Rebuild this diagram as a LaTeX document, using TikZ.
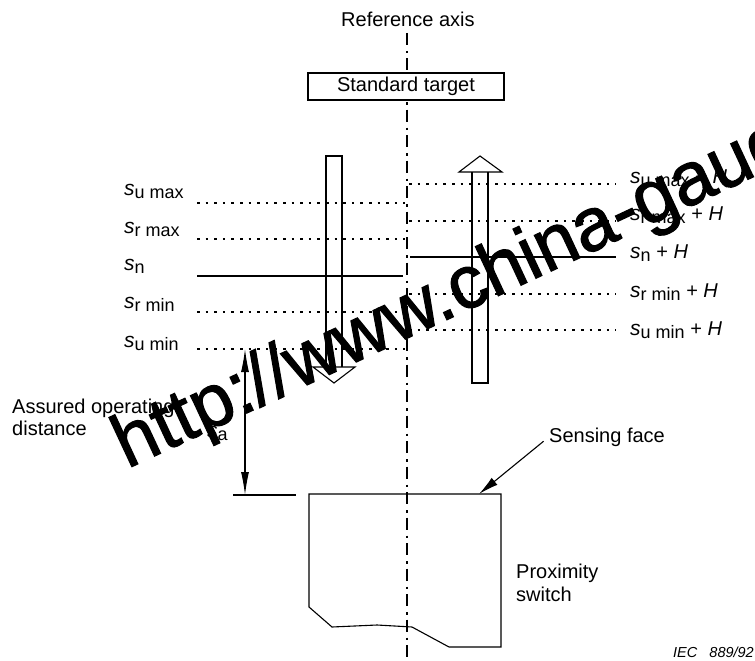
\documentclass[tikz,border=0pt]{standalone}
\usepackage{fontspec}
\setmainfont{Liberation Sans}
\newfontfamily\markfont[FakeBold=1.5]{Liberation Sans}
\usetikzlibrary{arrows.meta}

\newcommand{\sval}[1]{{\fontsize{21}{23}\selectfont\textit{s}}\raisebox{-3pt}{\fontsize{18}{20}\selectfont #1}}
\newcommand{\sadd}[1]{\sval{#1} + \textit{H}}

\tikzset{
  lbl/.style={anchor=base west, inner sep=0pt, font=\fontsize{20}{23}\selectfont},
  level/.style={line width=1.1pt, dash pattern=on 2.6pt off 6pt},
  solidlevel/.style={line width=1.1pt},
  axisline/.style={line width=1.1pt, dash pattern=on 12pt off 6pt on 2.5pt off 5pt},
  dimarrow/.style={line width=1.1pt, {Latex[length=23pt,width=8pt]}-{Latex[length=23pt,width=8pt]}},
  leader/.style={line width=1.1pt, -{Latex[length=20pt,width=9pt]}}
}

\begin{document}
\begin{tikzpicture}[x=1pt,y=-1pt]
  \useasboundingbox (0,0) rectangle (755,661);

  \coordinate (axisTop) at (407,33);
  \coordinate (axisBot) at (407,661);
  \draw[axisline] (axisTop) -- (axisBot);

  \node[lbl] (refaxis) at (341,27) {Reference axis};
  \node[draw, fill=white, line width=1.1pt, minimum width=196pt, minimum height=27pt, inner sep=0pt,
        font=\fontsize{20}{23}\selectfont] (target) at (406,86.5) {Standard target};

  \node[lbl] (sumax) at (124,195) {\sval{u max}};
  \node[lbl] (srmax) at (124,233) {\sval{r max}};
  \node[lbl] (sn) at (124,270) {\sval{n}};
  \node[lbl] (srmin) at (124,308) {\sval{r min}};
  \node[lbl] (sumin) at (124,347) {\sval{u min}};

  \coordinate (la) at (197,203);   \coordinate (lb) at (405,203);
  \coordinate (lc) at (197,239);   \coordinate (ld) at (405,239);
  \coordinate (le) at (197,276);   \coordinate (lf) at (403,276);
  \coordinate (lg) at (197,312);   \coordinate (lh) at (405,312);
  \coordinate (li) at (197,349);   \coordinate (lj) at (405,349);
  \draw[level] (la) -- (lb);
  \draw[level] (lc) -- (ld);
  \draw[solidlevel] (le) -- (lf);
  \draw[level] (lg) -- (lh);
  \draw[level] (li) -- (lj);

  \coordinate (ra) at (409,184);   \coordinate (rb) at (616,184);
  \coordinate (rc) at (409,221);   \coordinate (rd) at (616,221);
  \coordinate (re) at (410,257);   \coordinate (rf) at (616,257);
  \coordinate (rg) at (409,294);   \coordinate (rh) at (616,294);
  \coordinate (ri) at (409,330);   \coordinate (rj) at (616,330);
  \draw[level] (ra) -- (rb);
  \draw[level] (rc) -- (rd);
  \draw[solidlevel] (re) -- (rf);
  \draw[level] (rg) -- (rh);
  \draw[level] (ri) -- (rj);

  \node[lbl] (sumaxh) at (630,183) {\sadd{u max}};
  \node[lbl] (srmaxh) at (630,220) {\sadd{r max}};
  \node[lbl] (snh) at (630,258) {\sadd{n}};
  \node[lbl] (srminh) at (630,297) {\sadd{r min}};
  \node[lbl] (suminh) at (630,335) {\sadd{u min}};

  \draw[line width=1.1pt] (326,367) -- (326,156) -- (342,156) -- (342,367);
  \draw[line width=1.1pt] (313,367) -- (355,367) -- (334,383) -- cycle;

  \draw[line width=1.1pt] (472,172) -- (472,383) -- (488,383) -- (488,172);
  \draw[line width=1.1pt] (459,172) -- (502,172) -- (480,156) -- cycle;

  \node[lbl] (assured) at (12,413) {Assured operating};
  \node[lbl] (distance) at (12,435) {distance};
  \node[lbl] (sa) at (207,437) {\sval{a}};

  \coordinate (dimTop) at (245,349);
  \coordinate (dimBot) at (245,495);
  \coordinate (tickL) at (233,495);
  \coordinate (tickR) at (296,495);
  \draw[dimarrow] (dimTop) -- (dimBot);
  \draw[solidlevel] (tickL) -- (tickR);

  \node[lbl] (sensing) at (549,442) {Sensing face};
  \coordinate (face) at (479,494);
  \draw[leader, shorten <=7pt] (sensing.west) -- (face);

  \draw[line width=1.1pt] (309,494) -- (501,494) -- (501,647) -- (449,647) -- (412,627)
    -- (377,625) -- (332,627) -- (309,607) -- cycle;

  \node[lbl] (prox) at (516,578) {Proximity};
  \node[lbl] (switch) at (516,601) {switch};
  \node[lbl, font=\fontsize{14.5}{18}\selectfont\itshape] (iec) at (673,657) {IEC\ \ \ 889/92};

  \begin{scope}
    \clip (0,0) rectangle (755,661);
    \node[lbl, font=\fontsize{75}{80}\markfont, rotate=25] (mark) at (127,469) {http://www.china-gaug};
  \end{scope}
\end{tikzpicture}
\end{document}
